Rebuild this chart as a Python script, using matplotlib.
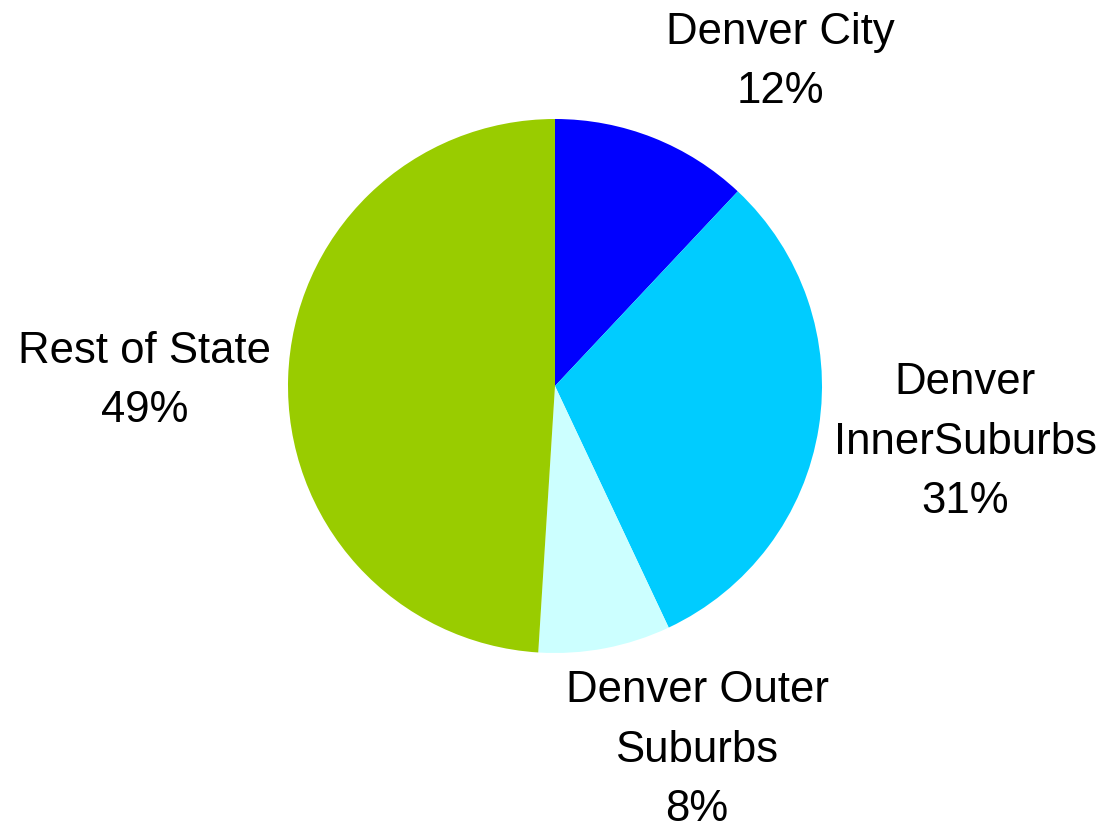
import matplotlib
matplotlib.use("Agg")
import matplotlib.pyplot as plt

categories = ["Denver City", "Denver\nInnerSuburbs", "Denver Outer\nSuburbs", "Rest of State"]
values = [12, 31, 8, 49]
colors = ["#0000FF", "#00CCFF", "#CCFFFF", "#99CC00"]

# label layout (data units, pie radius = 1)
label_pos = [(0.843, 1.217), (1.536, -0.206), (0.532, -1.36), (-1.536, 0.022)]

plt.rcParams['font.family'] = ['Liberation Sans', 'DejaVu Sans']

fig = plt.figure(figsize=(10.99, 8.29), dpi=100)
ax = fig.add_axes([0, 0, 1, 1])
ax.pie(values, colors=colors, startangle=90, counterclock=False,
       radius=1.0, center=(0, 0), wedgeprops=dict(linewidth=0))
R = 267.0
ax.set_xlim(-555 / R, (1099 - 555) / R)
ax.set_ylim(-(829 - 387) / R, 387 / R)
ax.set_aspect('auto')
ax.axis('off')

for cat, v, (x, y) in zip(categories, values, label_pos):
    ax.text(x, y, f"{cat}\n{v}%", ha='center', va='center', fontsize=31.5,
            linespacing=1.57, color='black')

fig.savefig("out.png", dpi=100)
